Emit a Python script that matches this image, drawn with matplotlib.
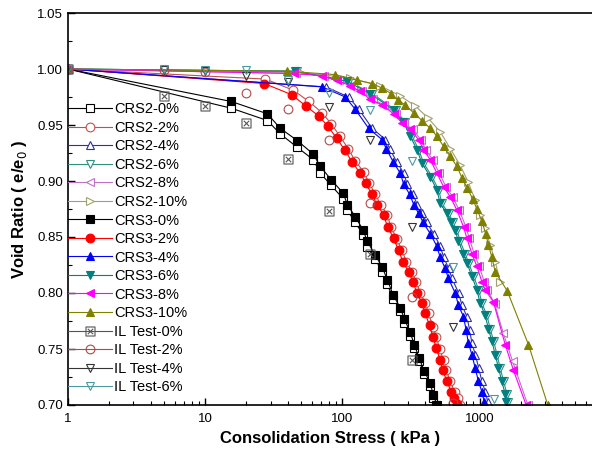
import numpy as np
import matplotlib.pyplot as plt
from matplotlib.lines import Line2D
from matplotlib.path import Path
from matplotlib.ticker import MultipleLocator, FixedLocator, LogLocator, NullFormatter

plt.rcParams['font.family'] = ['Liberation Sans', 'DejaVu Sans']

# consolidation stress (kPa) and normalised void ratio e/e0
crs2_0_s = [1, 15.5, 28.4, 35.3, 47, 61.4, 69, 83, 101.6, 108.6, 124, 142, 152, 174, 195, 212, 235, 264,
            283, 312, 334, 363, 395, 437, 459, 480]
crs2_0_e = [1.0, 0.965, 0.954, 0.942, 0.930, 0.919, 0.907, 0.896, 0.884, 0.874, 0.863, 0.852, 0.841, 0.830,
            0.819, 0.808, 0.795, 0.784, 0.773, 0.762, 0.751, 0.739, 0.728, 0.717, 0.706, 0.700]

crs2_2_s = [1, 27.5, 44, 57, 71, 83, 96, 110, 124, 143, 157, 174, 190, 212, 226, 250, 272, 293, 321, 346,
            370, 402, 425, 457, 484, 512, 547, 572, 612, 658, 692, 725]
crs2_2_e = [1.0, 0.991, 0.981, 0.971, 0.961, 0.951, 0.940, 0.929, 0.918, 0.908, 0.898, 0.888, 0.879, 0.870,
            0.859, 0.848, 0.838, 0.828, 0.819, 0.810, 0.800, 0.791, 0.782, 0.770, 0.761, 0.750, 0.740,
            0.731, 0.721, 0.712, 0.706, 0.700]

crs2_4_s = [1, 76, 111, 132, 165, 206, 221, 249, 280, 297, 328, 351, 382, 411, 463, 516, 547, 595, 629,
            704, 744, 809, 846, 880, 932, 985, 1041, 1101, 1146]
crs2_4_e = [1.0, 0.984, 0.975, 0.964, 0.947, 0.937, 0.929, 0.917, 0.907, 0.897, 0.888, 0.879, 0.871, 0.863,
            0.853, 0.842, 0.832, 0.822, 0.813, 0.800, 0.789, 0.779, 0.767, 0.755, 0.745, 0.733, 0.721,
            0.712, 0.703]

crs2_6_s = [1, 47, 111, 165, 246, 286, 322, 360, 391, 450, 503, 532, 595, 640, 684, 723, 786, 832, 905,
            984, 1040, 1131, 1196, 1267, 1339, 1415, 1497, 1582, 1610]
crs2_6_e = [1.0, 0.998, 0.989, 0.978, 0.963, 0.953, 0.940, 0.928, 0.916, 0.904, 0.892, 0.880, 0.871, 0.863,
            0.856, 0.846, 0.835, 0.827, 0.815, 0.803, 0.791, 0.780, 0.768, 0.757, 0.745, 0.733, 0.721,
            0.710, 0.703]

crs2_8_s = [1, 46, 74, 95, 119, 140, 166, 202, 245, 283, 325, 373, 406, 454, 509, 568, 635, 711, 795, 840,
            914, 993, 1082, 1142, 1290, 1490, 1740, 2250]
crs2_8_e = [1.0, 0.996, 0.994, 0.990, 0.985, 0.980, 0.973, 0.968, 0.960, 0.952, 0.946, 0.937, 0.928, 0.919,
            0.907, 0.895, 0.886, 0.874, 0.859, 0.849, 0.835, 0.824, 0.810, 0.803, 0.790, 0.764, 0.739,
            0.700]

crs2_10_s = [1, 49.4, 114, 189, 264, 340, 423, 516, 611, 722, 827, 929, 1010, 1098, 1195, 1300, 1413]
crs2_10_e = [1.0, 0.997, 0.992, 0.985, 0.976, 0.967, 0.956, 0.944, 0.929, 0.914, 0.899, 0.883, 0.870,
             0.858, 0.843, 0.828, 0.810]

crs3_0_s = [1, 15.5, 28.4, 35.3, 47.0, 61.4, 69.0, 83.1, 101.6, 108.6, 124.2, 142, 151.8, 173.6, 195.3,
            212.5, 234.8, 264, 282.6, 312, 334, 363, 395, 437, 459, 491]
crs3_0_e = [1.0, 0.971, 0.960, 0.947, 0.936, 0.924, 0.913, 0.901, 0.889, 0.879, 0.868, 0.856, 0.846, 0.834,
            0.823, 0.812, 0.798, 0.787, 0.777, 0.765, 0.754, 0.742, 0.730, 0.720, 0.709, 0.700]

crs3_2_s = [1, 27.0, 42.8, 54.1, 67.3, 78.3, 91.0, 103.8, 117.5, 135, 148, 164.3, 178.7, 199.6, 213.4, 236,
            256.6, 276.3, 303.4, 326.6, 349.3, 379.9, 401.6, 431.7, 457, 483, 516, 540, 578, 621, 653, 687]
crs3_2_e = [1.0, 0.987, 0.977, 0.967, 0.958, 0.949, 0.938, 0.928, 0.917, 0.907, 0.898, 0.888, 0.879, 0.870,
            0.859, 0.849, 0.838, 0.828, 0.819, 0.810, 0.800, 0.791, 0.782, 0.771, 0.761, 0.751, 0.740,
            0.731, 0.721, 0.712, 0.706, 0.701]

crs3_4_s = [1, 71.4, 105, 124.2, 155.3, 194.3, 208.8, 234.8, 264.2, 280.1, 309.6, 331.3, 360, 388, 437, 487,
            516, 561, 593, 664, 702, 763, 798, 830, 879, 929, 982, 1039, 1081]
crs3_4_e = [1.0, 0.984, 0.975, 0.964, 0.947, 0.937, 0.929, 0.917, 0.907, 0.897, 0.888, 0.879, 0.871, 0.863,
            0.853, 0.842, 0.832, 0.822, 0.813, 0.800, 0.789, 0.779, 0.767, 0.755, 0.745, 0.733, 0.721,
            0.712, 0.703]

crs3_6_s = [1, 45.4, 108, 159.7, 238.8, 277.7, 312.6, 349.4, 380, 436.8, 488.6, 516.4, 577.9, 621, 664, 702,
            763, 808, 879, 955, 1010, 1098, 1161, 1230, 1300, 1374, 1453, 1536, 1563]
crs3_6_e = [1.0, 0.998, 0.989, 0.978, 0.963, 0.953, 0.940, 0.928, 0.916, 0.904, 0.892, 0.880, 0.871, 0.863,
            0.856, 0.846, 0.835, 0.827, 0.815, 0.803, 0.791, 0.780, 0.768, 0.757, 0.745, 0.733, 0.721,
            0.710, 0.703]

crs3_8_s = [1, 44.1, 71.0, 91.3, 114.2, 135, 159.7, 194.2, 236, 271.7, 312.6, 359, 390, 437, 489, 546, 611,
            684, 764, 808, 879, 955, 1040, 1098, 1262, 1537, 1767, 2185]
crs3_8_e = [1.0, 0.996, 0.994, 0.990, 0.985, 0.980, 0.973, 0.968, 0.960, 0.952, 0.946, 0.937, 0.928, 0.919,
            0.907, 0.895, 0.886, 0.874, 0.859, 0.849, 0.835, 0.824, 0.810, 0.803, 0.792, 0.754, 0.731,
            0.700]

crs3_10_s = [1, 39.5, 88.8, 127.7, 164.4, 194.2, 227, 255, 287, 330, 380, 437, 489, 546, 611, 684, 743, 812,
             891, 955, 1040, 1107, 1161, 1229, 1300, 1589, 2270, 3143]
crs3_10_e = [1.0, 0.998, 0.995, 0.990, 0.987, 0.983, 0.978, 0.972, 0.968, 0.961, 0.954, 0.947, 0.940, 0.931,
             0.922, 0.913, 0.903, 0.894, 0.884, 0.875, 0.864, 0.853, 0.843, 0.832, 0.819, 0.802, 0.754,
             0.700]

il_0_s = [1, 5, 10, 20, 40, 80, 160, 320]
il_0_e = [1.0, 0.976, 0.967, 0.952, 0.920, 0.873, 0.835, 0.740]
il_2_s = [1, 5, 10, 20, 40, 80, 160, 320, 640]
il_2_e = [1.0, 0.999, 0.997, 0.979, 0.964, 0.937, 0.880, 0.796, 0.702]
il_4_s = [1, 5, 10, 20, 40, 80, 160, 320, 640]
il_4_e = [1.0, 0.999, 0.998, 0.994, 0.988, 0.966, 0.937, 0.859, 0.770]
il_6_s = [1, 5, 10, 20, 40, 80, 160, 320, 640, 1280]
il_6_e = [1.0, 1.0, 0.999, 0.999, 0.990, 0.979, 0.963, 0.918, 0.823, 0.705]

# square with a cross inside, used for the incremental loading test at 0 %
boxed_x = Path([(-1, -1), (1, -1), (1, 1), (-1, 1), (-1, -1),
                (-0.6, -0.6), (0.6, 0.6), (-0.6, 0.6), (0.6, -0.6)],
               [Path.MOVETO, Path.LINETO, Path.LINETO, Path.LINETO, Path.CLOSEPOLY,
                Path.MOVETO, Path.LINETO, Path.MOVETO, Path.LINETO])

# label, stress, ratio, line colour, marker, marker face, draw line
series = [
    ('CRS2-0%', crs2_0_s, crs2_0_e, 'black', 's', 'white', True),
    ('CRS2-2%', crs2_2_s, crs2_2_e, '#c05050', 'o', 'white', True),
    ('CRS2-4%', crs2_4_s, crs2_4_e, '#30309a', '^', 'white', True),
    ('CRS2-6%', crs2_6_s, crs2_6_e, '#2f8f80', 'v', 'white', True),
    ('CRS2-8%', crs2_8_s, crs2_8_e, '#c070c8', '<', 'white', True),
    ('CRS2-10%', crs2_10_s, crs2_10_e, '#a0a070', '>', 'white', True),
    ('CRS3-0%', crs3_0_s, crs3_0_e, 'black', 's', 'black', True),
    ('CRS3-2%', crs3_2_s, crs3_2_e, 'red', 'o', 'red', True),
    ('CRS3-4%', crs3_4_s, crs3_4_e, 'blue', '^', 'blue', True),
    ('CRS3-6%', crs3_6_s, crs3_6_e, '#008080', 'v', '#008080', True),
    ('CRS3-8%', crs3_8_s, crs3_8_e, 'magenta', '<', 'magenta', True),
    ('CRS3-10%', crs3_10_s, crs3_10_e, '#808000', '^', '#808000', True),
    ('IL Test-0%', il_0_s, il_0_e, '#555555', boxed_x, 'none', False),
    ('IL Test-2%', il_2_s, il_2_e, '#b04848', 'o', 'none', False),
    ('IL Test-4%', il_4_s, il_4_e, '#333333', 'v', 'none', False),
    ('IL Test-6%', il_6_s, il_6_e, '#4a9aa0', 'v', 'none', False),
]

fig = plt.figure(figsize=(5.92, 4.53), dpi=100)
ax = fig.add_axes([68 / 592, 1 - 405 / 453, 1 - 68 / 592, (405 - 13) / 453])

handles = []
for label, s, e, color, marker, mfc, with_line in series:
    ms = 6.3 if marker is not boxed_x else 6.5
    ax.plot(s, e, color=color, lw=0.8 if with_line else 0, ls='-' if with_line else 'none',
            marker=marker, ms=ms, mec=color, mfc=mfc, mew=0.8)
    handles.append(Line2D([], [], color=color, lw=0.8, marker=marker, ms=ms,
                          mec=color, mfc=mfc, mew=0.8, label=label))

ax.set_xscale('log')
ax.set_xlim(1, 6600)
ax.set_ylim(0.70, 1.05)

ax.xaxis.set_major_locator(FixedLocator([1, 10, 100, 1000]))
ax.set_xticklabels(['1', '10', '100', '1000'])
ax.xaxis.set_minor_locator(LogLocator(base=10, subs=np.arange(2, 10)))
ax.xaxis.set_minor_formatter(NullFormatter())
ax.yaxis.set_major_locator(MultipleLocator(0.05))
ax.yaxis.set_minor_locator(MultipleLocator(0.025))
ax.yaxis.set_major_formatter(plt.FuncFormatter(lambda v, p: f'{v:.2f}'))

ax.tick_params(which='both', direction='in', top=False, right=False, labelsize=9.5)
ax.tick_params(which='major', length=5, width=1)
ax.tick_params(which='minor', length=3, width=0.8)
ax.tick_params(axis='x', pad=6)
ax.spines['right'].set_visible(False)
for side in ('left', 'bottom', 'top'):
    ax.spines[side].set_linewidth(1.2)

ax.set_xlabel('Consolidation Stress ( kPa )', fontsize=12, fontweight='bold', labelpad=4)
ax.set_ylabel('Void Ratio ( e/e$_0$ )', fontsize=12, fontweight='bold', labelpad=6)

ax.legend(handles=handles, loc='upper left', bbox_to_anchor=(0.0, 0.772), frameon=False,
          fontsize=10.5, labelspacing=0.31, handlelength=3.0, handletextpad=0.15,
          borderaxespad=0.0, borderpad=0.0)

fig.savefig('out.png', dpi=100)
